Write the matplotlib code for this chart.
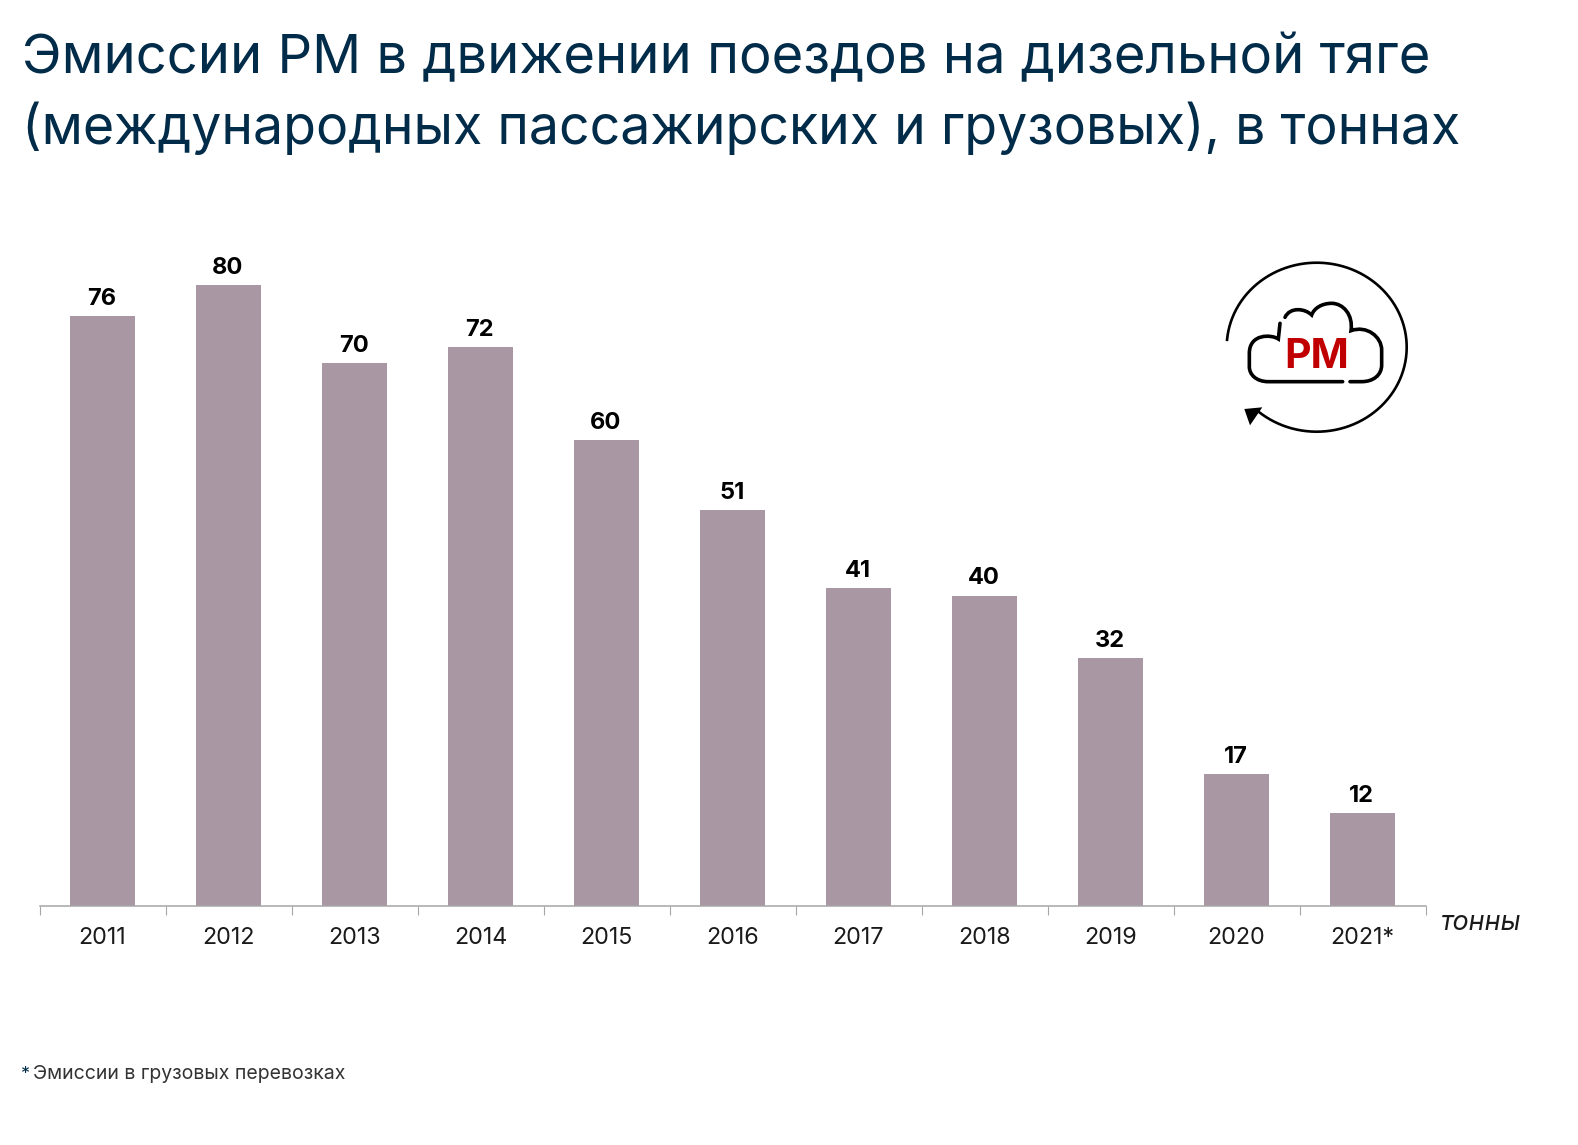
import numpy as np
import matplotlib
matplotlib.use('Agg')
import matplotlib.pyplot as plt
from matplotlib.path import Path
from matplotlib.patches import PathPatch, Polygon

years = ['2011', '2012', '2013', '2014', '2015', '2016', '2017', '2018', '2019', '2020', '2021*']
values = [76, 80, 70, 72, 60, 51, 41, 40, 32, 17, 12]

title_lines = ['Эмиссии РМ в движении поездов на дизельной тяге',
               '(международных пассажирских и грузовых), в тоннах']
footnote = 'Эмиссии в грузовых перевозках'
unit_label = 'тонны'

W, H = 1578, 1145
plt.rcParams['font.family'] = ['Inter', 'DejaVu Sans']

fig = plt.figure(figsize=(W / 100, H / 100), dpi=100, facecolor='white')

# chart axes, placed in pixels
left, right, bottom, px_per_unit = 39.5, 1425.5, 906, 7.76
ymax = 90
ax = fig.add_axes([left / W, 1 - bottom / H, (right - left) / W, ymax * px_per_unit / H])

xpos = list(range(len(years)))
ax.bar(xpos, values, width=0.516, color='#a998a3')
ax.set_xlim(-0.5, len(years) - 0.5)
ax.set_ylim(0, ymax)
ax.patch.set_visible(False)

for s in ['top', 'left', 'right']:
    ax.spines[s].set_visible(False)
ax.spines['bottom'].set_color('#a6a6a6')
ax.spines['bottom'].set_linewidth(1.1)
ax.yaxis.set_visible(False)

ax.set_xticks([i - 0.5 for i in range(len(years) + 1)])
ax.set_xticklabels([])
ax.tick_params(axis='x', which='major', length=6.2, width=0.8, color='#a6a6a6')
ax.set_xticks(xpos, minor=True)
ax.set_xticklabels(years, minor=True, fontsize=16.8, color='#1a1a1a')
ax.tick_params(axis='x', which='minor', length=0, pad=15)

for x, v in zip(xpos, values):
    ax.annotate(str(v), (x, v), xytext=(-0.5, 8), textcoords='offset points',
                ha='center', va='baseline', fontsize=17, fontweight='bold', color='black')

# overlay in pixel coordinates for text and logo
ov = fig.add_axes([0, 0, 1, 1])
ov.set_xlim(0, W)
ov.set_ylim(H, 0)
ov.axis('off')

ov.text(22, 73, title_lines[0], fontsize=39.1, color='#002b49', va='baseline')
ov.text(22, 144, title_lines[1], fontsize=38.6, color='#002b49', va='baseline')
ov.text(1441, 930, unit_label, fontsize=19.4, style='italic', color='#1a1a1a', va='baseline')
ov.text(21, 1079, '*', fontsize=13, color='#002b49', va='baseline')
ov.text(33, 1079, footnote, fontsize=14, color='#333333', va='baseline')

# logo: ring with arrow
cx, cy, rx, ry = 1316.7, 347.2, 90, 84.5
t = np.radians(np.linspace(175, -132, 200))
ov.plot(cx + rx * np.cos(t), cy - ry * np.sin(t), color='black', lw=1.9)
ov.add_patch(Polygon([(1244.3, 409), (1262.3, 407.3), (1250, 425.3)], closed=True, color='black', lw=0))


def z(x, y):
    return (1190 + x / 3, 240 + y / 3)


m, l, c = Path.MOVETO, Path.LINETO, Path.CURVE4
cloud = [
    (m, (270, 250)), (l, (265, 297)),
    (c, (245, 283)), (c, (178, 280)), (c, (178, 340)),
    (l, (178, 380)),
    (c, (178, 405)), (c, (200, 425)), (c, (235, 425)),
    (l, (458, 425)),
    (m, (480, 425)), (l, (515, 425)),
    (c, (550, 425)), (c, (575, 405)), (c, (575, 375)),
    (l, (575, 330)),
    (c, (575, 290)), (c, (530, 255)), (c, (483, 272)),
    (c, (490, 225)), (c, (460, 190)), (c, (425, 190)),
    (c, (395, 190)), (c, (372, 205)), (c, (365, 225)),
    (c, (345, 205)), (c, (300, 200)), (c, (285, 232)),
]
verts = [z(*p) for _, p in cloud]
codes = [code for code, _ in cloud]
ov.add_patch(PathPatch(Path(verts, codes), fill=False, lw=2.6, edgecolor='black', capstyle='round'))
ov.text(1316.5, 367.5, 'РМ', fontsize=29.5, fontweight='bold', color='#c00000', ha='center', va='baseline')

fig.savefig('out.png', dpi=100)
